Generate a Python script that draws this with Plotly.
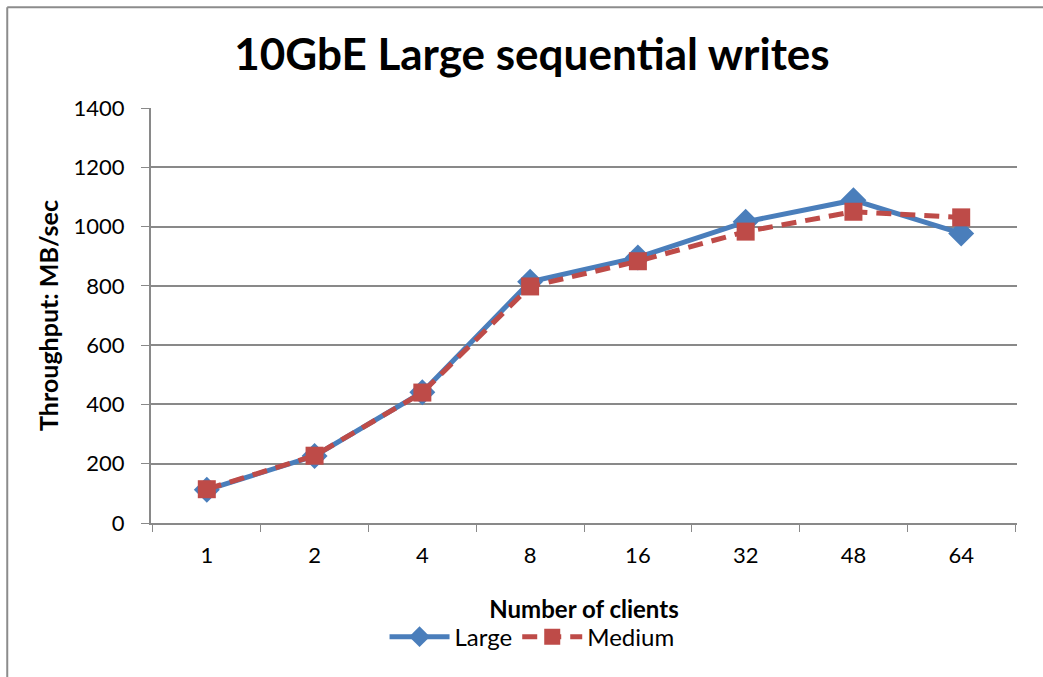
import plotly.graph_objects as go

# Data
clients = ["1", "2", "4", "8", "16", "32", "48", "64"]
large = [112, 226, 441, 814, 896, 1016, 1089, 977]
medium = [114, 227, 440, 798, 883, 983, 1050, 1031]

y_ticks = [0, 200, 400, 600, 800, 1000, 1200, 1400]

FONT = "Lato"
GRID = "#898989"

fig = go.Figure()

fig.add_trace(go.Scatter(
    x=clients, y=large, name="Large", mode="lines+markers",
    line=dict(color="#4A7EBB", width=5),
    marker=dict(symbol="diamond", size=20, color="#4A7EBB"),
))
fig.add_trace(go.Scatter(
    x=clients, y=medium, name="Medium", mode="lines+markers",
    line=dict(color="#BE4B48", width=5, dash="15px,9px"),
    marker=dict(symbol="square", size=18, color="#BE4B48"),
))

# outer chart border (only top and left edges are visible in the frame)
fig.add_shape(type="line", xref="paper", yref="paper",
              x0=-0.166, x1=1.3, y0=1.243, y1=1.243,
              line=dict(color="#8C8C8C", width=2), layer="below")
fig.add_shape(type="line", xref="paper", yref="paper",
              x0=-0.166, x1=-0.166, y0=-0.6, y1=1.243,
              line=dict(color="#8C8C8C", width=2), layer="below")

fig.update_layout(
    width=1043, height=677,
    paper_bgcolor="white", plot_bgcolor="white",
    font=dict(family=FONT, size=22, color="black"),
    title=dict(text="<b>10GbE Large sequential writes</b>",
               x=0.51, xanchor="center", y=0.919, yanchor="middle",
               font=dict(family=FONT, size=44)),
    margin=dict(l=151, r=26, t=108, b=154),
    showlegend=True,
    legend=dict(orientation="h", x=0.44, xanchor="center",
                y=-0.275, yanchor="middle",
                font=dict(family=FONT, size=24), itemwidth=60),
    xaxis=dict(
        type="category", tickson="boundaries",
        ticks="outside", ticklen=7, tickcolor=GRID,
        ticklabelstandoff=12,
        showline=True, linecolor=GRID, linewidth=2,
        showgrid=False,
        title=dict(text="<b>Number of clients</b>", standoff=34,
                   font=dict(family=FONT, size=24)),
    ),
    yaxis=dict(
        range=[0, 1400], tickvals=y_ticks,
        ticks="outside", ticklen=8, tickcolor=GRID,
        ticklabelstandoff=12,
        showline=True, linecolor=GRID, linewidth=2,
        showgrid=True, gridcolor=GRID, gridwidth=2,
        zeroline=False,
        title=dict(text="<b>Throughput: MB/sec</b>", standoff=8,
                   font=dict(family=FONT, size=25)),
    ),
)

fig.write_html("out.html", config={"displayModeBar": False},
               post_script="document.body.style.margin='0';")
